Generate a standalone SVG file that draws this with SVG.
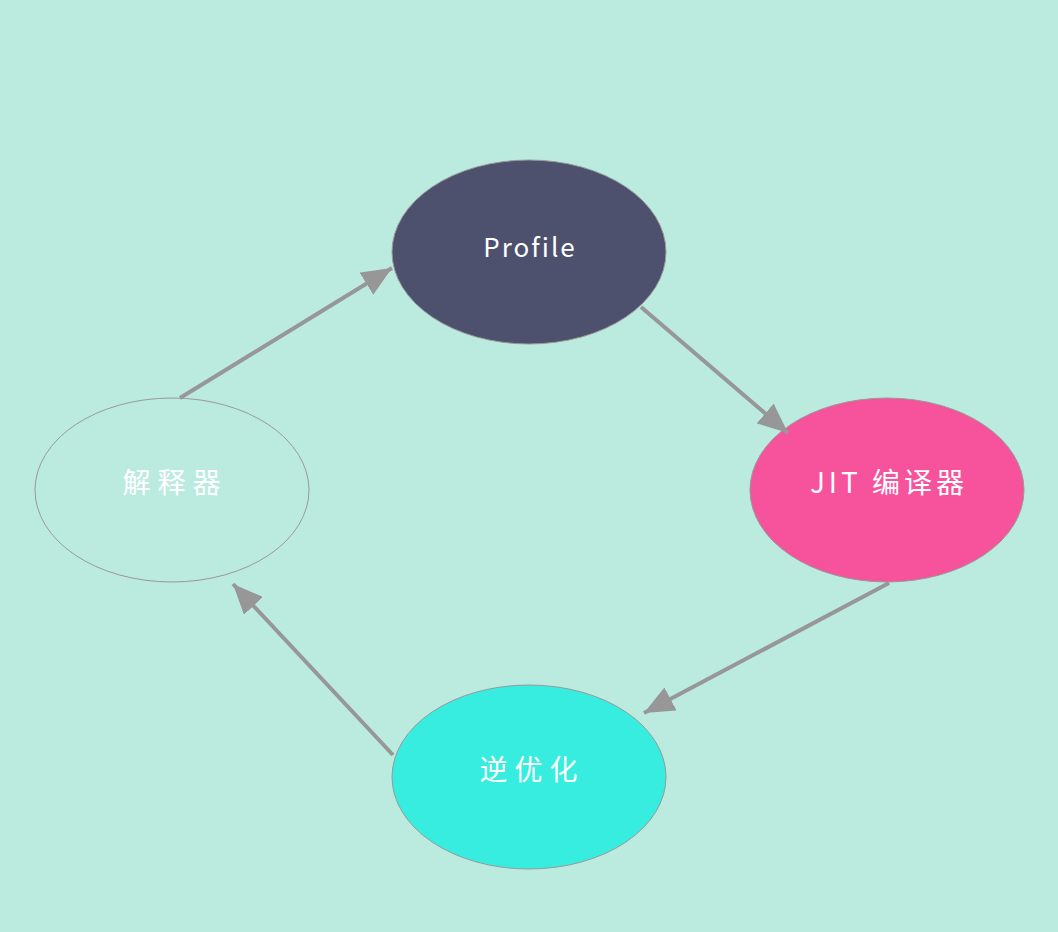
<svg xmlns="http://www.w3.org/2000/svg" width="1058" height="932" viewBox="0 0 1058 932">
<style>
.lbl{font-family:"Noto Sans CJK SC","Liberation Sans",sans-serif;font-size:26px;fill:#ffffff;text-anchor:middle;dominant-baseline:central;letter-spacing:2px}
.cn{font-size:28px;letter-spacing:7px}
.node ellipse{stroke:#999999;stroke-width:1}
.conn line{stroke:#979797;stroke-width:4}
</style>
<defs>
<marker id="ah" markerUnits="userSpaceOnUse" markerWidth="32" markerHeight="26" refX="30" refY="13" orient="auto">
<path d="M0,0 L30,13 L0,26 Z" fill="#979797"/>
</marker>
</defs>
<rect width="1058" height="932" fill="#bbebdf"/>
<g id="profile" class="node">
<ellipse cx="529" cy="252" rx="137" ry="92" fill="#4e516e"/>
<text class="lbl" x="530" y="245">Profile</text>
</g>
<g id="interpreter" class="node">
<ellipse cx="172" cy="490" rx="137" ry="92" fill="none"/>
<text class="lbl cn" x="175" y="481">解释器</text>
</g>
<g id="jit" class="node">
<ellipse cx="887" cy="490" rx="137" ry="92" fill="#f7529c"/>
<text class="lbl cn" x="889" y="481" style="letter-spacing:4px">JIT 编译器</text>
</g>
<g id="deopt" class="node">
<ellipse cx="529" cy="777" rx="137" ry="92" fill="#37ede0"/>
<text class="lbl cn" x="532" y="768">逆优化</text>
</g>
<g id="connectors" class="conn">
<line x1="180" y1="398" x2="392" y2="268" marker-end="url(#ah)"/>
<line x1="641" y1="307" x2="788" y2="433" marker-end="url(#ah)"/>
<line x1="889" y1="583" x2="644" y2="713" marker-end="url(#ah)"/>
<line x1="393" y1="755" x2="233" y2="584" marker-end="url(#ah)"/>
</g>
</svg>
